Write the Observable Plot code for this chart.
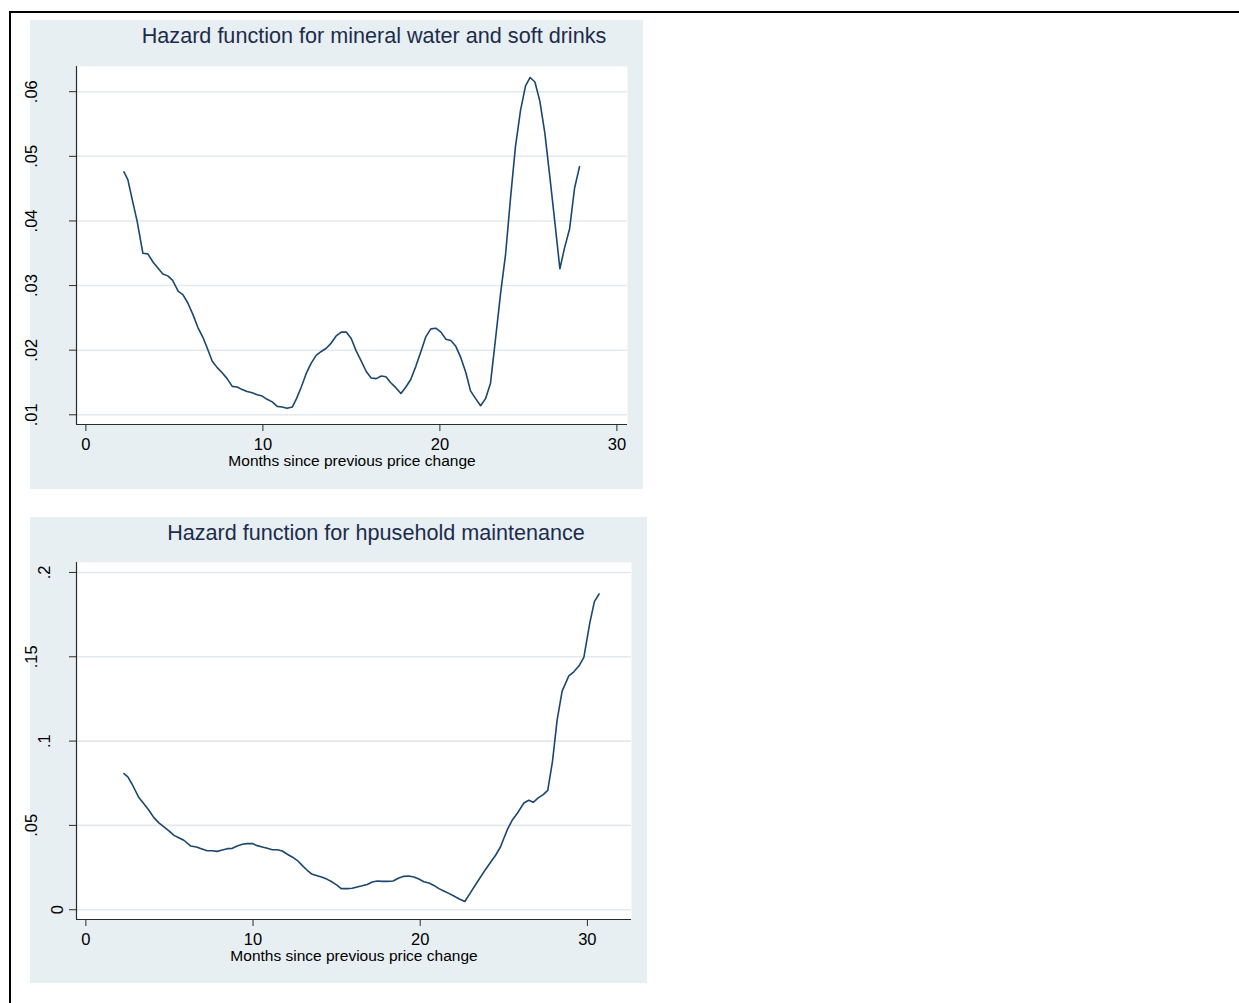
<!DOCTYPE html>
<html>
<head>
<meta charset="utf-8">
<script src="https://cdn.jsdelivr.net/npm/d3@7"></script>
<script src="https://cdn.jsdelivr.net/npm/@observablehq/plot@0.6"></script>
<style>
  html, body { margin: 0; padding: 0; background: #ffffff; }
  body { width: 1239px; height: 1003px; position: relative; overflow: hidden;
         font-family: "Liberation Sans", Arial, Helvetica, sans-serif; }
  #border { position: absolute; left: 9px; top: 11px; right: -4px; bottom: -4px;
            border-top: 2px solid #000; border-left: 2px solid #000; }
  .panel { position: absolute; }
  .panel svg { display: block; }
</style>
</head>
<body>
<div id="border"></div>
<div id="p1" class="panel" style="left:30px; top:20px;"></div>
<div id="p2" class="panel" style="left:30px; top:517px;"></div>
<script>
// Smoothed hazard estimates by months since the previous price change
const months1 = [2.15, 2.37, 2.62, 2.90, 3.22, 3.50, 3.80, 4.07, 4.35, 4.63, 4.90, 5.22, 5.48, 5.76, 6.05, 6.33, 6.61, 6.86, 7.14, 7.42, 7.70, 7.98, 8.27, 8.55, 8.83, 9.11, 9.40, 9.68, 9.96, 10.24, 10.53, 10.81, 11.09, 11.37, 11.66, 11.90, 12.17, 12.45, 12.73, 13.01, 13.30, 13.58, 13.86, 14.14, 14.43, 14.71, 14.99, 15.27, 15.56, 15.84, 16.12, 16.40, 16.69, 16.95, 17.21, 17.51, 17.80, 18.08, 18.36, 18.64, 18.93, 19.21, 19.49, 19.77, 20.06, 20.34, 20.62, 20.90, 21.19, 21.47, 21.73, 22.02, 22.30, 22.58, 22.86, 23.15, 23.43, 23.71, 23.99, 24.27, 24.56, 24.84, 25.10, 25.37, 25.65, 25.93, 26.21, 26.50, 26.78, 27.04, 27.33, 27.61, 27.89];
const hazard1 = [.0476, .0464, .0433, .0399, .0350, .0349, .0336, .0327, .0318, .0315, .0308, .0291, .0286, .0273, .0255, .0235, .0220, .0203, .0183, .0173, .0165, .0156, .0144, .0143, .0139, .0136, .0134, .0131, .0129, .0124, .0120, .0113, .0112, .0110, .0112, .0125, .0143, .0164, .0180, .0192, .0198, .0203, .0211, .0222, .0228, .0228, .0218, .0199, .0183, .0167, .0157, .0156, .0160, .0159, .0150, .0142, .0133, .0143, .0155, .0175, .0198, .0221, .0233, .0234, .0228, .0217, .0215, .0206, .0188, .0165, .0137, .0125, .0114, .0125, .0149, .0219, .0288, .0348, .0435, .0515, .0572, .0609, .0622, .0615, .0585, .0536, .0469, .0397, .0326, .0358, .0388, .0451, .0484];

const months2 = [2.28, 2.51, 2.77, 3.17, 3.47, 3.77, 4.07, 4.37, 4.67, 4.97, 5.27, 5.56, 5.86, 6.26, 6.62, 6.90, 7.26, 7.56, 7.86, 8.16, 8.46, 8.76, 9.06, 9.36, 9.65, 9.95, 10.25, 10.55, 10.85, 11.15, 11.45, 11.75, 12.05, 12.34, 12.64, 12.94, 13.24, 13.54, 13.84, 14.14, 14.44, 14.74, 15.04, 15.27, 15.63, 15.93, 16.23, 16.53, 16.83, 17.13, 17.43, 17.73, 18.03, 18.38, 18.72, 19.02, 19.32, 19.62, 19.92, 20.22, 20.52, 20.82, 21.12, 21.41, 21.71, 22.01, 22.31, 22.67, 23.01, 23.31, 23.61, 23.91, 24.21, 24.51, 24.80, 25.00, 25.24, 25.50, 25.80, 26.20, 26.50, 26.76, 27.06, 27.36, 27.63, 27.91, 28.19, 28.49, 28.89, 29.19, 29.49, 29.79, 30.14, 30.42, 30.70];
const hazard2 = [.0807, .0788, .0744, .0665, .0629, .0590, .0546, .0515, .0491, .0467, .0441, .0427, .0412, .0378, .0372, .0362, .0350, .0350, .0346, .0354, .0362, .0364, .0378, .0388, .0392, .0392, .0380, .0372, .0364, .0356, .0356, .0348, .0329, .0313, .0293, .0263, .0234, .0210, .0202, .0192, .0180, .0164, .0144, .0125, .0125, .0127, .0135, .0142, .0150, .0164, .0170, .0168, .0168, .0170, .0188, .0198, .0200, .0194, .0182, .0166, .0158, .0144, .0125, .0111, .0097, .0081, .0065, .0049, .0101, .0148, .0194, .0239, .0281, .0323, .0372, .0422, .0481, .0530, .0570, .0633, .0649, .0637, .0663, .0683, .0708, .0877, .1124, .1296, .1387, .1411, .1445, .1496, .1698, .1827, .1872];

// Axis ticks and their labels
const xTicks = [0, 10, 20, 30];
const yTicks1 = [0.01, 0.02, 0.03, 0.04, 0.05, 0.06];
const yLabels1 = [".01", ".02", ".03", ".04", ".05", ".06"];
const yTicks2 = [0, 0.05, 0.1, 0.15, 0.2];
const yLabels2 = ["0", ".05", ".1", ".15", ".2"];

// Titles
const title1 = "Hazard function for mineral water and soft drinks";
const title2 = "Hazard function for hpusehold maintenance";
const xTitle = "Months since previous price change";

const FONT = "'Liberation Sans', Arial, Helvetica, sans-serif";
const PANEL_BG = "#e8eff2";
const GRID = "#e2eaee";
const LINE = "#1a476f";
const TITLE_INK = "#1c2c4c";
const AXIS_INK = "#2a2a2a";

function hazardPanel({months, hazard, yTicks, yLabels, title, width, height,
                      margins, xDomain, yDomain, titleDy}) {
  const rows = months.map((m, i) => ({m, h: hazard[i]}));
  const yTickRows = yTicks.map((v, i) => ({v, label: yLabels[i]}));
  return Plot.plot({
    width, height,
    marginLeft: margins[0], marginRight: margins[1],
    marginTop: margins[2], marginBottom: margins[3],
    x: {domain: xDomain},
    y: {domain: yDomain},
    style: {background: PANEL_BG, fontFamily: FONT, color: "#000", overflow: "visible"},
    marks: [
      // white plot region
      Plot.frame({fill: "white", stroke: "none"}),
      // horizontal grid
      Plot.ruleY(yTicks, {stroke: GRID, strokeWidth: 1.6}),
      // hazard curve
      Plot.line(rows, {x: "m", y: "h", stroke: LINE, strokeWidth: 1.6, curve: "linear"}),
      // axis lines along the left and bottom of the plot region
      Plot.ruleX([xDomain[0]], {stroke: AXIS_INK, strokeWidth: 1.2}),
      Plot.ruleY([yDomain[0]], {stroke: AXIS_INK, strokeWidth: 1.2}),
      // x axis ticks and labels
      Plot.axisX({ticks: xTicks, tickSize: 7, tickPadding: 7, fontSize: 16.5,
                  label: null, stroke: AXIS_INK, fill: "#000"}),
      // y axis ticks
      Plot.axisY({ticks: yTicks, tickSize: 7, text: null, label: null, stroke: AXIS_INK}),
      // rotated y tick labels, set back from the axis by label length
      ...yTickRows.map(d => Plot.text([d], {
        y: "v", text: "label", frameAnchor: "left", rotate: -90,
        textAnchor: "middle", lineAnchor: "middle", fontSize: 16.5, fill: "#000",
        dx: -(5.5 + 13 * d.label.length)
      })),
      // x axis title
      Plot.text([xTitle], {frameAnchor: "bottom", dy: 41, lineAnchor: "bottom",
                           fontSize: 15.5, fill: "#000"}),
      // panel title
      Plot.text([title], {frameAnchor: "top", dx: 22, dy: titleDy, lineAnchor: "bottom",
                          fontSize: 21.6, fill: TITLE_INK})
    ]
  });
}

document.getElementById("p1").appendChild(hazardPanel({
  months: months1, hazard: hazard1, yTicks: yTicks1, yLabels: yLabels1, title: title1,
  width: 613, height: 469, margins: [46, 16, 46, 65],
  xDomain: [-0.53, 30.6], yDomain: [0.0085, 0.0639], titleDy: -23.3
}));

document.getElementById("p2").appendChild(hazardPanel({
  months: months2, hazard: hazard2, yTicks: yTicks2, yLabels: yLabels2, title: title2,
  width: 617, height: 466, margins: [46, 16, 45, 64],
  xDomain: [-0.56, 32.64], yDomain: [-0.0058, 0.2059], titleDy: -22.7
}));
</script>
</body>
</html>
